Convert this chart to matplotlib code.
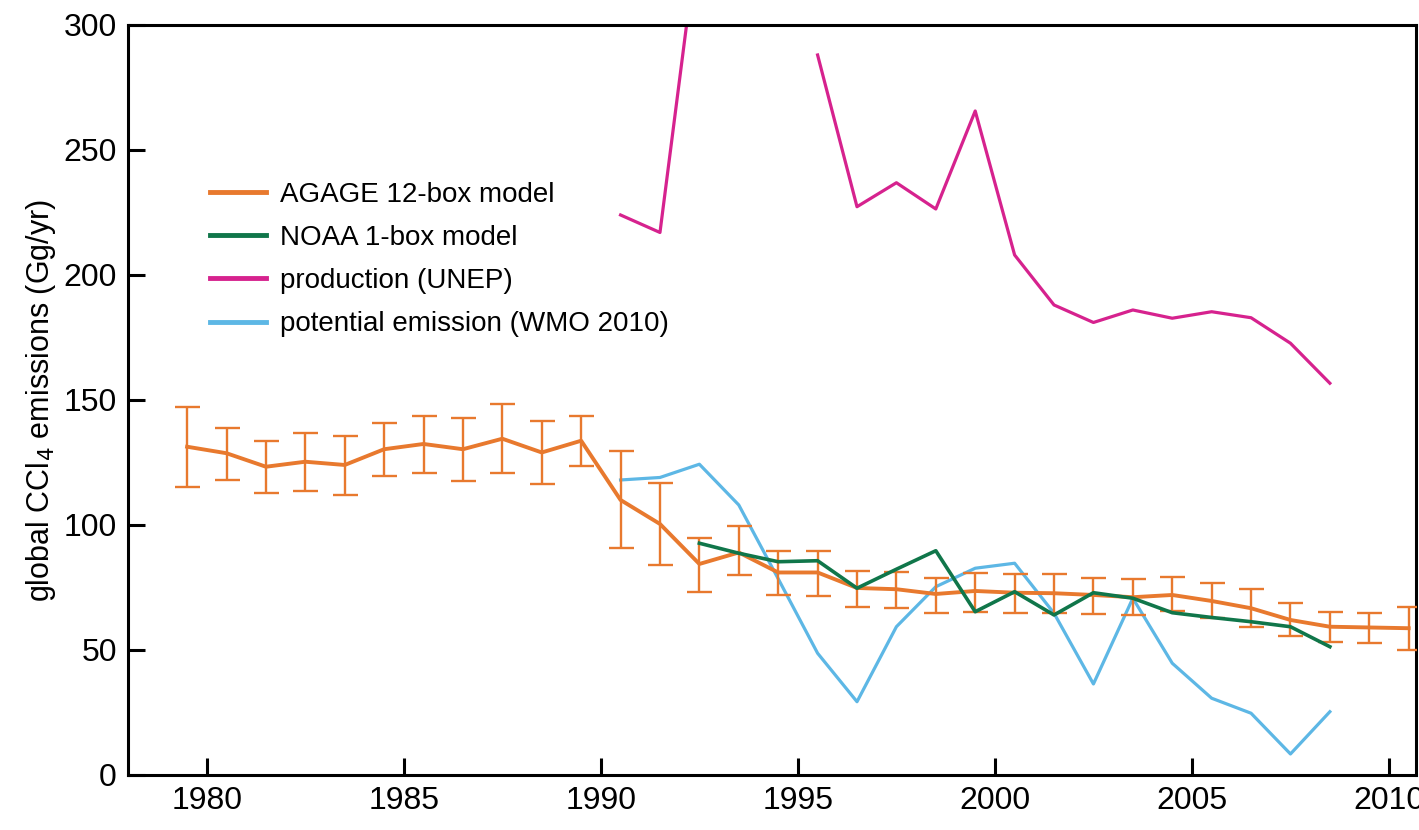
import numpy as np
import matplotlib
matplotlib.use("Agg")
import matplotlib.pyplot as plt
from matplotlib import font_manager

# AGAGE 12-box model (mid-year), with uncertainty range
agage_years = np.arange(1979.5, 2011.0, 1.0)
agage_vals = [131.3, 128.7, 123.3, 125.3, 124.0, 130.3, 132.4, 130.3, 134.5, 129.0, 133.7,
              110.0, 100.4, 84.4, 89.0, 81.0, 81.0, 74.8, 74.3, 72.4, 73.6,
              72.9, 72.7, 72.0, 71.1, 72.0, 69.6, 66.7, 62.0, 59.3, 59.0, 58.7]
agage_hi = [147.3, 138.9, 133.7, 136.7, 135.6, 140.7, 143.6, 142.8, 148.3, 141.6, 143.6,
            129.5, 116.7, 94.7, 99.6, 89.6, 89.6, 81.6, 81.0, 78.9, 80.9,
            80.3, 80.4, 78.7, 78.3, 79.3, 76.7, 74.3, 68.7, 65.3, 64.7, 67.3]
agage_lo = [115.3, 118.0, 112.7, 113.7, 112.1, 119.7, 120.8, 117.5, 120.7, 116.3, 123.6,
            90.9, 84.0, 73.3, 80.0, 72.0, 71.7, 67.3, 66.8, 64.9, 65.3,
            64.9, 64.7, 64.3, 64.0, 65.7, 62.7, 59.3, 55.6, 53.3, 52.7, 50.0]

# NOAA 1-box model
noaa_years = np.arange(1992.5, 2009.0, 1.0)
noaa_vals = [92.7, 88.7, 85.3, 85.7, 74.7, 82.3, 89.7, 65.3, 73.3, 64.0, 72.9,
             70.7, 64.9, 63.0, 61.3, 59.3, 51.3]

# production (UNEP); 1992.5 runs off the top, 1993-94 not shown
unep_years = np.arange(1990.5, 2009.0, 1.0)
unep_vals = [224.0, 217.0, 340.0, np.nan, np.nan, 288.0, 227.3, 236.9, 226.4, 265.6,
             208.0, 188.0, 181.0, 186.0, 182.7, 185.3, 182.9, 172.7, 156.7]

# potential emission (WMO 2010)
wmo_years = np.arange(1990.5, 2009.0, 1.0)
wmo_vals = [118.0, 119.0, 124.3, 108.0, 78.5, 48.7, 29.3, 59.3, 75.3, 82.7,
            84.7, 64.7, 36.4, 70.7, 44.7, 30.7, 24.7, 8.4, 25.3]

x_ticks = [1980, 1985, 1990, 1995, 2000, 2005, 2010]
y_ticks = [0, 50, 100, 150, 200, 250, 300]

ORANGE = "#E8792E"
GREEN = "#10764A"
MAGENTA = "#D6228E"
BLUE = "#5DB7E5"

names = {f.name for f in font_manager.fontManager.ttflist}
narrow = "Liberation Sans Narrow" if "Liberation Sans Narrow" in names else "Liberation Sans"
plt.rcParams["font.family"] = ["Liberation Sans", "DejaVu Sans"]

fig = plt.figure(figsize=(14.19, 8.30), dpi=100, facecolor="white")
ax = fig.add_axes([0.0902, 0.0663, 0.9078, 0.9036])

ax.plot(unep_years, unep_vals, color=MAGENTA, lw=2.3, label="production (UNEP)", zorder=2)
ax.plot(wmo_years, wmo_vals, color=BLUE, lw=2.3, label="potential emission (WMO 2010)", zorder=3)
ax.errorbar(agage_years, agage_vals,
            yerr=[np.array(agage_vals) - np.array(agage_lo), np.array(agage_hi) - np.array(agage_vals)],
            fmt="none", ecolor=ORANGE, elinewidth=1.7, capsize=9, capthick=1.7, zorder=4)
ax.plot(agage_years, agage_vals, color=ORANGE, lw=2.8, label="AGAGE 12-box model", zorder=5)
ax.plot(noaa_years, noaa_vals, color=GREEN, lw=2.6, label="NOAA 1-box model", zorder=6)

ax.set_xlim(1978.0, 2010.69)
ax.set_ylim(0, 300)
ax.set_xticks(x_ticks)
ax.set_yticks(y_ticks)
ax.tick_params(direction="in", length=12, width=2.2, labelsize=23, pad=8)
for s in ax.spines.values():
    s.set_linewidth(2.2)

ax.set_ylabel("global CCl$_4$ emissions (Gg/yr)", fontsize=22, family=[narrow, "DejaVu Sans"], labelpad=4)

handles, labels = ax.get_legend_handles_labels()
order = ["AGAGE 12-box model", "NOAA 1-box model", "production (UNEP)", "potential emission (WMO 2010)"]
h = [handles[labels.index(o)] for o in order]
leg = ax.legend(h, order, loc="upper left", bbox_to_anchor=(0.064, 0.791), frameon=False,
                borderpad=0, borderaxespad=0,
                fontsize=20, handlelength=2.0, handletextpad=0.5, labelspacing=0.62)
for line in leg.get_lines():
    line.set_linewidth(3.5)

fig.savefig("out.png", dpi=100, facecolor="white")
